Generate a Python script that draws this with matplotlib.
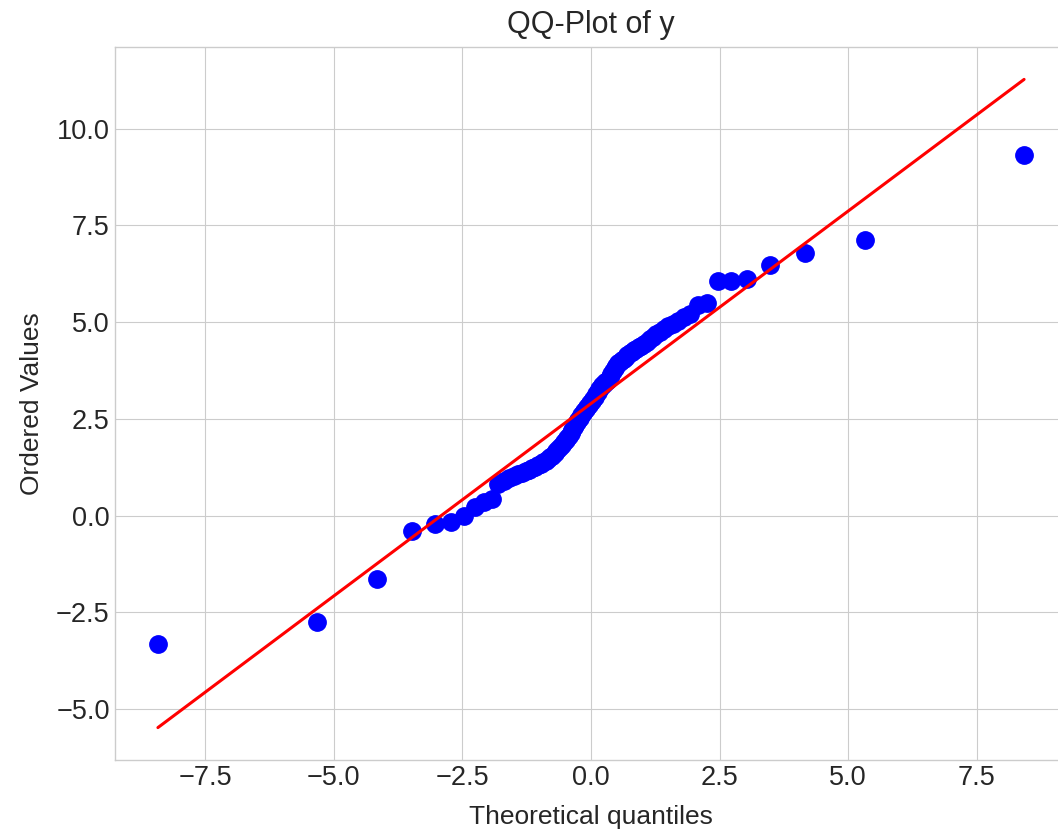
import numpy as np
import matplotlib
matplotlib.use("Agg")
import matplotlib.pyplot as plt

plt.style.use("seaborn-v0_8-whitegrid")
plt.rcParams["font.family"] = ["Liberation Sans", "DejaVu Sans"]

# Theoretical quantiles (t-distribution positions)
theoretical_lower = [-8.418, -5.323, -4.150, -3.485, -3.040, -2.713, -2.459, -2.252, -2.080, -1.933,
                     -1.805, -1.692, -1.590, -1.499, -1.415, -1.339, -1.268, -1.202, -1.140, -1.082,
                     -1.028, -0.976, -0.927, -0.879, -0.834, -0.791, -0.750, -0.709, -0.671, -0.633,
                     -0.596, -0.561, -0.526, -0.492, -0.459, -0.427, -0.395, -0.364, -0.333, -0.303,
                     -0.273, -0.243, -0.214, -0.185, -0.156, -0.127, -0.099, -0.071, -0.042, -0.014]
theoretical_upper = [0.014, 0.042, 0.071, 0.099, 0.127, 0.156, 0.185, 0.214, 0.243, 0.273,
                     0.303, 0.333, 0.364, 0.395, 0.427, 0.459, 0.492, 0.526, 0.561, 0.596,
                     0.633, 0.671, 0.709, 0.750, 0.791, 0.834, 0.879, 0.927, 0.976, 1.028,
                     1.082, 1.140, 1.202, 1.268, 1.339, 1.415, 1.499, 1.590, 1.692, 1.805,
                     1.933, 2.080, 2.252, 2.459, 2.713, 3.040, 3.485, 4.150, 5.323, 8.418]

# Ordered sample values
ordered_lower = [-3.33, -2.74, -1.65, -0.39, -0.23, -0.18, 0.00, 0.21, 0.36, 0.43,
                 0.82, 0.90, 0.96, 1.02, 1.07, 1.11, 1.15, 1.18, 1.22, 1.26,
                 1.30, 1.33, 1.38, 1.42, 1.46, 1.51, 1.55, 1.61, 1.67, 1.71,
                 1.76, 1.82, 1.89, 1.95, 2.00, 2.06, 2.14, 2.21, 2.28, 2.34,
                 2.41, 2.47, 2.53, 2.59, 2.65, 2.70, 2.75, 2.81, 2.86, 2.91]
ordered_upper = [2.96, 3.01, 3.06, 3.14, 3.20, 3.28, 3.33, 3.38, 3.41, 3.45,
                 3.48, 3.51, 3.58, 3.65, 3.73, 3.81, 3.87, 3.94, 3.98, 4.01,
                 4.05, 4.09, 4.15, 4.19, 4.23, 4.27, 4.31, 4.35, 4.39, 4.44,
                 4.49, 4.55, 4.62, 4.68, 4.75, 4.83, 4.89, 4.96, 5.02, 5.12,
                 5.22, 5.43, 5.48, 6.07, 6.07, 6.12, 6.47, 6.78, 7.11, 9.33]

osm = np.array(theoretical_lower + theoretical_upper)
osr = np.array(ordered_lower + ordered_upper)

# least-squares fit line, as in a probability plot
slope, intercept = np.polyfit(osm, osr, 1)

W, H = 1058, 834
fig = plt.figure(figsize=(W / 100, H / 100), dpi=100)
ax = fig.add_axes([114.6 / W, (834 - 760) / H, 952.8 / W, 713 / H])

ax.plot(osm, osr, "o", color="blue", markersize=12.5, zorder=3)
ax.plot(osm, slope * osm + intercept, "-", color="red", linewidth=2.2, zorder=4)

ax.set_xlim(-9.26, 9.26)
ax.set_title("QQ-Plot of y", fontsize=22, color="#262626", pad=10)
ax.set_xlabel("Theoretical quantiles", fontsize=19, color="#262626", labelpad=10)
ax.set_ylabel("Ordered Values", fontsize=19, color="#262626", labelpad=9)
ax.tick_params(labelsize=19.5, labelcolor="#262626")
for s in ax.spines.values():
    s.set_color("#cccccc")

fig.savefig("out.png", dpi=100)
